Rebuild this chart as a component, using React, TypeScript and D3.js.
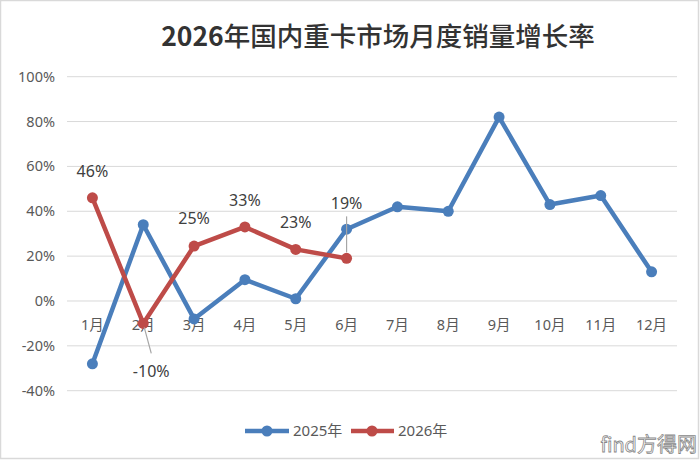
import React from "react";
import * as d3 from "d3";

const months = ["1月", "2月", "3月", "4月", "5月", "6月", "7月", "8月", "9月", "10月", "11月", "12月"];
const values2025 = [-28, 34, -8, 9.5, 1, 32, 42, 40, 82, 43, 47, 13];
const values2026 = [46, -10, 24.5, 33, 23, 19];
const labels2026 = ["46%", "-10%", "25%", "33%", "23%", "19%"];
const yTicks = [-40, -20, 0, 20, 40, 60, 80, 100];
const seriesNames = ["2025年", "2026年"];
const titleYear = "2026";
const titleRest = "年国内重卡市场月度销量增长率";

const W = 700;
const H = 460;
const BLUE = "#4A7EBB";
const RED = "#BE4B48";
const FONT = "'Noto Sans', 'Noto Sans CJK SC', sans-serif";

export default function App() {
  const x = d3.scaleBand<string>().domain(months).range([67, 677]);
  const y = d3.scaleLinear().domain([-40, 100]).range([390.7, 76.7]);
  const cx = (m: string) => (x(m) as number) + x.bandwidth() / 2;

  const line = d3
    .line<number>()
    .x((_, i) => cx(months[i]))
    .y((d) => y(d));

  const labelPos = [
    { dx: 0, dy: -26 },
    { dx: 8, dy: 48 },
    { dx: 0, dy: -28 },
    { dx: 0, dy: -27 },
    { dx: 0, dy: -27 },
    { dx: 0, dy: -55 },
  ];

  return (
    <svg
      width={W}
      height={H}
      style={{ position: "absolute", left: 0, top: 0, background: "#fff" }}
      fontFamily={FONT}
    >
      <rect x={0.5} y={0.5} width={W - 2} height={H - 2} fill="#fff" stroke="#D9D9D9" strokeWidth={1.5} />
      <text
        x={378}
        y={46}
        textAnchor="middle"
        fontSize={26.5}
        fill="#333"
        fontFamily="'Noto Sans CJK SC', sans-serif"
      >
        <tspan fontWeight="bold">{titleYear}</tspan>
        <tspan fontWeight={500}>{titleRest}</tspan>
      </text>

      {yTicks.map((t) => (
        <g key={t}>
          <line x1={67} x2={677} y1={y(t)} y2={y(t)} stroke="#D9D9D9" strokeWidth={1} />
          <text x={55} y={y(t)} dy="0.35em" textAnchor="end" fontSize={14.5} fill="#595959">
            {t}%
          </text>
        </g>
      ))}

      {months.map((m) => (
        <text key={m} x={cx(m)} y={y(0) + 24} dy="0.35em" textAnchor="middle" fontSize={14.5} fill="#595959">
          {m}
        </text>
      ))}

      <path d={line(values2025) || ""} fill="none" stroke={BLUE} strokeWidth={4.5} strokeLinejoin="round" />
      {values2025.map((v, i) => (
        <circle key={"b" + i} cx={cx(months[i])} cy={y(v)} r={5.5} fill={BLUE} />
      ))}

      <path d={line(values2026) || ""} fill="none" stroke={RED} strokeWidth={4.5} strokeLinejoin="round" />
      {values2026.map((v, i) => (
        <circle key={"r" + i} cx={cx(months[i])} cy={y(v)} r={5.5} fill={RED} />
      ))}

      <line
        x1={cx(months[1]) + 1}
        y1={y(values2026[1]) + 4}
        x2={cx(months[1]) + 8}
        y2={y(values2026[1]) + 30}
        stroke="#A6A6A6"
        strokeWidth={1.2}
      />
      <line
        x1={cx(months[5])}
        y1={y(values2026[5]) - 6}
        x2={cx(months[5])}
        y2={y(values2026[5]) - 42}
        stroke="#A6A6A6"
        strokeWidth={1.2}
      />

      {labels2026.map((l, i) => (
        <text
          key={"l" + i}
          x={cx(months[i]) + labelPos[i].dx}
          y={y(values2026[i]) + labelPos[i].dy}
          dy="0.35em"
          textAnchor="middle"
          fontSize={16}
          fill="#404040"
        >
          {l}
        </text>
      ))}

      <g>
        <line x1={245} x2={289} y1={431} y2={431} stroke={BLUE} strokeWidth={4.5} />
        <circle cx={267} cy={431} r={5.5} fill={BLUE} />
        <text x={293} y={431} dy="0.35em" fontSize={15} fill="#595959">
          {seriesNames[0]}
        </text>
        <line x1={351} x2={394} y1={431} y2={431} stroke={RED} strokeWidth={4.5} />
        <circle cx={372} cy={431} r={5.5} fill={RED} />
        <text x={398} y={431} dy="0.35em" fontSize={15} fill="#595959">
          {seriesNames[1]}
        </text>
      </g>

      <text
        x={697}
        y={452}
        textAnchor="end"
        fontSize={20}
        fill="#fff"
        stroke="#888"
        strokeWidth={0.8}
        fontFamily="'Noto Sans CJK SC', sans-serif"
      >
        find方得网
      </text>
    </svg>
  );
}
